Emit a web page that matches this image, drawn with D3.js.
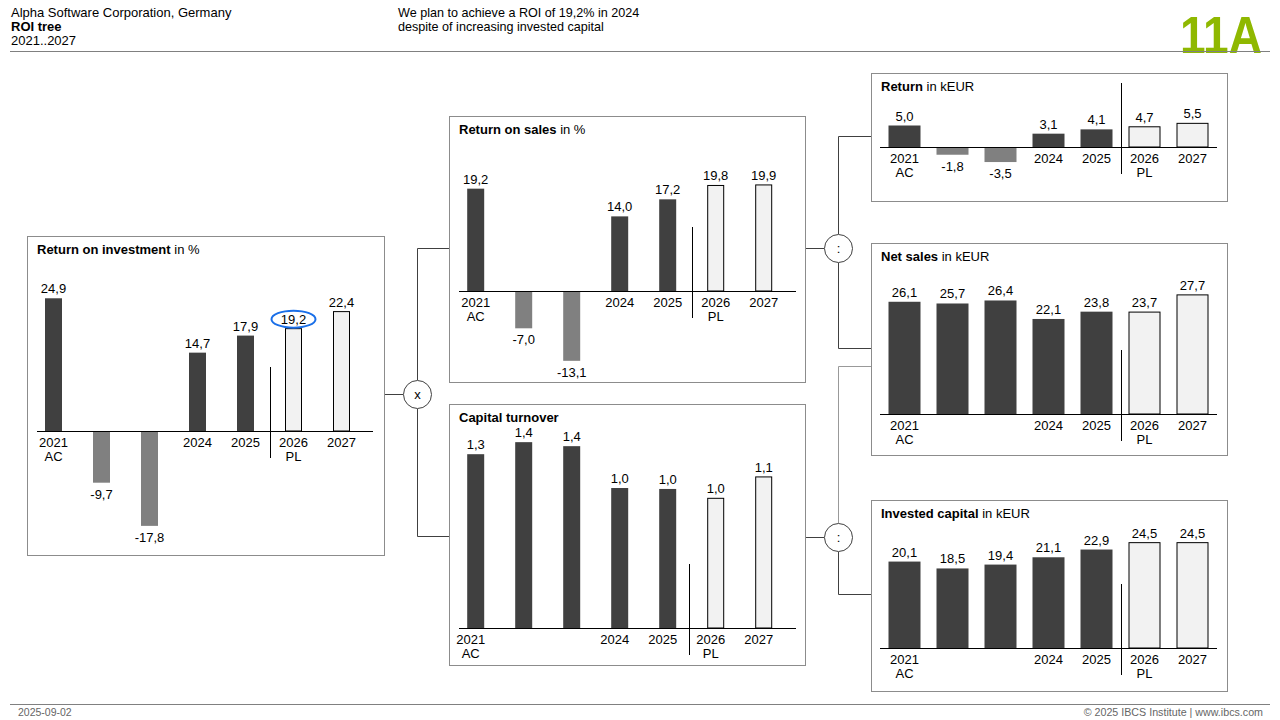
<!DOCTYPE html>
<html>
<head>
<meta charset="utf-8">
<script src="https://cdn.jsdelivr.net/npm/d3@7"></script>
<style>
  html, body { margin: 0; padding: 0; background: #fff; }
  svg { display: block; font-family: "Liberation Sans", Arial, sans-serif; }
</style>
</head>
<body>
<svg id="chart" width="1280" height="720"></svg>
<script>
// ---------- DATA ----------
const years      = ["2021", "2022", "2023", "2024", "2025", "2026", "2027"];
const yearLabels = ["2021", "", "", "2024", "2025", "2026", "2027"];
const subLabels  = ["AC", "", "", "", "", "PL", ""];
const scenarios  = ["AC", "AC", "AC", "AC", "AC", "PL", "PL"];

const roiValues          = [24.9, -9.7, -17.8, 14.7, 17.9, 19.2, 22.4];
const returnOnSales      = [19.2, -7.0, -13.1, 14.0, 17.2, 19.8, 19.9];
const capitalTurnover    = [1.30, 1.39, 1.36, 1.047, 1.04, 0.97, 1.13];
const returnValues       = [5.0, -1.8, -3.5, 3.1, 4.1, 4.7, 5.5];
const netSales           = [26.1, 25.7, 26.4, 22.1, 23.8, 23.7, 27.7];
const investedCapital    = [20.1, 18.5, 19.4, 21.1, 22.9, 24.5, 24.5];

const headerLeft  = ["Alpha Software Corporation, Germany", "ROI tree", "2021..2027"];
const headerMsg   = ["We plan to achieve a ROI of 19,2% in 2024", "despite of increasing invested capital"];
const pageId      = "11A";
const footerLeft  = "2025-09-02";
const footerRight = "\u00A9 2025 IBCS Institute | www.ibcs.com";
const highlightYear = "2026";

// ---------- LAYOUT ----------
const panels = [
  { title: "Return on investment", unit: " in %", values: roiValues,
    box: [27, 236, 357, 319], zero: 431, k: 5.33, band: [29.5, 365.5], bw: 17, axis: [37, 373], highlight: true },
  { title: "Return on sales", unit: " in %", values: returnOnSales,
    box: [449, 116, 356, 266], zero: 291, k: 5.33, band: [451.7, 787.7], bw: 17, axis: [459, 796] },
  { title: "Capital turnover", unit: "", values: capitalTurnover,
    box: [449, 404, 356, 261], zero: 628, k: 133.7, band: [451.7, 787.7], bw: 17, axis: [459, 796], labelDx: -5, sepDx: -3 },
  { title: "Return", unit: " in kEUR", values: returnValues,
    box: [871, 73, 356, 128], zero: 147, k: 4.3, band: [880.5, 1216.5], bw: 32, axis: [880, 1217] },
  { title: "Net sales", unit: " in kEUR", values: netSales,
    box: [871, 243, 356, 212], zero: 414, k: 4.3, band: [880.5, 1216.5], bw: 32, axis: [880, 1217] },
  { title: "Invested capital", unit: " in kEUR", values: investedCapital,
    box: [871, 500, 356, 191], zero: 648, k: 4.3, band: [880.5, 1216.5], bw: 32, axis: [880, 1217] }
];

const COL_AC = "#404040", COL_NEG = "#808080", COL_PL = "#f2f2f2";
const fmt = d3.formatLocale({ decimal: ",", thousands: ".", grouping: [3], currency: ["", ""], minus: "-" }).format(".1f");

const svg = d3.select("#chart");

// ---------- HEADER ----------
const hdr = svg.append("g").attr("fill", "#000");
headerLeft.forEach((t, i) => {
  hdr.append("text").attr("x", 11).attr("y", 17 + i * 14).attr("font-size", 13)
    .attr("font-weight", i === 1 ? "bold" : "normal").text(t);
});
headerMsg.forEach((t, i) => {
  hdr.append("text").attr("x", 398).attr("y", 17 + i * 14).attr("font-size", 12.6).text(t);
});
svg.append("text").attr("x", 1262).attr("y", 53).attr("text-anchor", "end")
  .attr("font-size", 52).attr("font-weight", "bold").attr("fill", "#8fb800")
  .attr("textLength", 82).attr("lengthAdjust", "spacingAndGlyphs").text(pageId);
svg.append("line").attr("x1", 10).attr("x2", 1270).attr("y1", 51.5).attr("y2", 51.5)
  .attr("stroke", "#808080").attr("stroke-width", 1);

// ---------- FOOTER ----------
svg.append("line").attr("x1", 10).attr("x2", 1270).attr("y1", 704.5).attr("y2", 704.5)
  .attr("stroke", "#808080").attr("stroke-width", 1);
svg.append("text").attr("x", 18).attr("y", 716).attr("font-size", 10.5).attr("fill", "#666").text(footerLeft);
svg.append("text").attr("x", 1263).attr("y", 716).attr("font-size", 10.7).attr("fill", "#666")
  .attr("text-anchor", "end").text(footerRight);

// ---------- CONNECTORS ----------
const conn = svg.append("g").attr("fill", "none").attr("stroke", "#404040").attr("stroke-width", 1);
function path(points, color) {
  const p = conn.append("path").attr("d", d3.line()(points));
  if (color) p.attr("stroke", color);
}
// left operator (x)
path([[384, 394.5], [403, 394.5]]);
path([[417.5, 380], [417.5, 248.5], [449, 248.5]]);
path([[417.5, 409], [417.5, 536.5], [449, 536.5]]);
// right upper operator (:)
path([[805, 248.5], [824, 248.5]]);
path([[838.5, 234], [838.5, 136.5], [871, 136.5]]);
path([[838.5, 263], [838.5, 348.5], [871, 348.5]]);
// right lower operator (:)
path([[805, 537.5], [824, 537.5]]);
path([[838.5, 523], [838.5, 366.5], [871, 366.5]], "#999");
path([[838.5, 552], [838.5, 594.5], [871, 594.5]]);

const ops = [[417.5, 394.5, "x"], [838.5, 248.5, ":"], [838.5, 537.5, ":"]];
ops.forEach(([cx, cy, s]) => {
  svg.append("circle").attr("cx", cx).attr("cy", cy).attr("r", 14)
    .attr("fill", "#fff").attr("stroke", "#404040").attr("stroke-width", 1);
  svg.append("text").attr("x", cx).attr("y", cy + 4.5).attr("text-anchor", "middle")
    .attr("font-size", 13).text(s);
});

// ---------- PANELS ----------
panels.forEach(p => {
  const g = svg.append("g");
  const [bx, by, bwid, bh] = p.box;
  g.append("rect").attr("x", bx + 0.5).attr("y", by + 0.5).attr("width", bwid).attr("height", bh)
    .attr("fill", "#fff").attr("stroke", "#8c8c8c").attr("stroke-width", 1);

  const t = g.append("text").attr("x", bx + 10).attr("y", by + 18).attr("font-size", 13);
  t.append("tspan").attr("font-weight", "bold").text(p.title);
  if (p.unit) t.append("tspan").text(p.unit);

  const pad = 1 - p.bw / ((p.band[1] - p.band[0]) / years.length);
  const x = d3.scaleBand().domain(years).range(p.band).paddingInner(pad).paddingOuter(pad / 2);
  const y = d3.scaleLinear().domain([0, 10]).range([p.zero, p.zero - 10 * p.k]);

  const data = years.map((yr, i) => ({ yr, v: p.values[i], sc: scenarios[i], lab: yearLabels[i], sub: subLabels[i] }));

  // bars
  g.selectAll("rect.bar").data(data).enter().append("rect").attr("class", "bar")
    .attr("x", d => d.sc === "PL" ? x(d.yr) + 0.5 : x(d.yr))
    .attr("width", d => d.sc === "PL" ? x.bandwidth() - 1 : x.bandwidth())
    .attr("y", d => Math.min(y(d.v), y(0)))
    .attr("height", d => Math.abs(y(d.v) - y(0)))
    .attr("fill", d => d.sc === "PL" ? COL_PL : (d.v < 0 ? COL_NEG : COL_AC))
    .attr("stroke", d => d.sc === "PL" ? "#000" : "none")
    .attr("stroke-width", 1);

  // zero axis line
  g.append("line").attr("x1", p.axis[0]).attr("x2", p.axis[1])
    .attr("y1", y(0) + 0.5).attr("y2", y(0) + 0.5).attr("stroke", "#000").attr("stroke-width", 1.2);

  // AC / PL separator
  const sepX = (x("2025") + x("2026") + x.bandwidth()) / 2 + (p.sepDx || 0);
  g.append("line").attr("x1", Math.round(sepX) + 0.5).attr("x2", Math.round(sepX) + 0.5)
    .attr("y1", y(0) - 64).attr("y2", y(0) + 27).attr("stroke", "#000").attr("stroke-width", 1);

  // value labels
  g.selectAll("text.val").data(data).enter().append("text").attr("class", "val")
    .attr("x", d => x(d.yr) + x.bandwidth() / 2)
    .attr("y", d => d.v >= 0 ? y(d.v) - 5 : y(d.v) + 16)
    .attr("text-anchor", "middle").attr("font-size", 13)
    .text(d => fmt(d.v));

  // category labels
  const ldx = p.labelDx || 0;
  g.selectAll("text.cat").data(data.filter(d => d.lab)).enter().append("text").attr("class", "cat")
    .attr("x", d => x(d.yr) + x.bandwidth() / 2 + ldx).attr("y", y(0) + 16)
    .attr("text-anchor", "middle").attr("font-size", 13).text(d => d.lab);
  g.selectAll("text.sub").data(data.filter(d => d.sub)).enter().append("text").attr("class", "sub")
    .attr("x", d => x(d.yr) + x.bandwidth() / 2 + ldx).attr("y", y(0) + 30)
    .attr("text-anchor", "middle").attr("font-size", 13).text(d => d.sub);

  if (p.highlight) {
    const d = data.find(e => e.yr === highlightYear);
    g.append("ellipse").attr("cx", x(d.yr) + x.bandwidth() / 2).attr("cy", y(d.v) - 9.5)
      .attr("rx", 22).attr("ry", 8.5).attr("fill", "none")
      .attr("stroke", "#1a6fe8").attr("stroke-width", 2);
  }
});
</script>
</body>
</html>
